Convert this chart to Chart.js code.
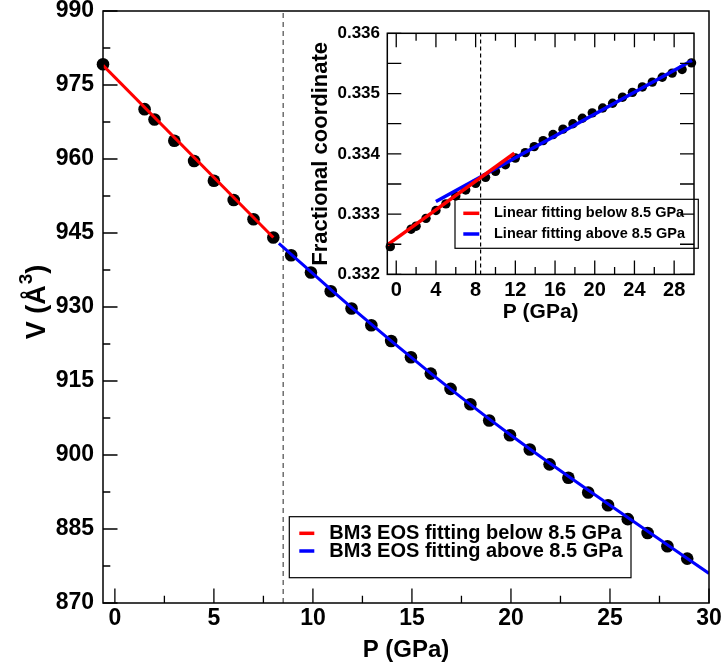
<!DOCTYPE html>
<html>
<head>
<meta charset="utf-8">
<script src="https://cdn.jsdelivr.net/npm/chart.js@4.4.0/dist/chart.umd.min.js"></script>
<style>
  body { margin: 0; background: #fff; }
  #wrap { position: relative; width: 724px; height: 668px; }
  #mainChart { position: absolute; left: 0; top: 0; }
  #insetChart { position: absolute; left: 290px; top: 15px; }
</style>
</head>
<body>
<div id="wrap">
  <canvas id="mainChart" width="724" height="668"></canvas>
  <canvas id="insetChart" width="420" height="320"></canvas>
</div>
<script>
  // main panel: cell volume vs pressure
  const pressure = [-0.6, 1.5, 2, 3, 4, 5, 6, 7, 8, 8.9, 9.9, 10.9, 11.95, 12.95, 13.95, 14.95, 15.95,
    16.95, 17.95, 18.9, 19.95, 20.95, 21.95, 22.9, 23.9, 24.9, 25.9, 26.9, 27.9, 28.9]
  const volume = [979.2, 970.1, 968.0, 963.7, 959.6, 955.6, 951.7, 947.8, 944.1, 940.5, 937.0, 933.2, 929.7,
    926.3, 923.1, 919.8, 916.5, 913.4, 910.3, 907.0, 904.0, 901.1, 898.1, 895.4, 892.4, 889.8, 887.0,
    884.2, 881.5, 879.0]
  const fitBelowP = [-0.6, 8.0]
  const fitBelowV = [979.0, 944.1]
  const fitAboveP = [8.28, 12, 16, 20, 25, 30]
  const fitAboveV = [942.9, 929.7, 916.4, 904.0, 889.8, 876.0]
  const transitionP = 8.5
  const mainLegend = ['BM3 EOS fitting below 8.5 GPa', 'BM3 EOS fitting above 8.5 GPa']
  const mainYTitle = ['V (Å', '3', ')']   // base text, superscript, closing text
  const mainXTicks = [0, 5, 10, 15, 20, 25, 30]
  const mainXMinor = [2.5, 7.5, 12.5, 17.5, 22.5, 27.5]
  const mainYTicks = [870, 885, 900, 915, 930, 945, 960, 975, 990]
  const mainYMinor = [877.5, 892.5, 907.5, 922.5, 937.5, 952.5, 967.5, 982.5]

  // inset: fractional coordinate vs pressure
  const insetP = [-0.6, 1.5, 2, 3, 4, 5, 6, 7, 8, 9, 10, 11, 12, 13, 13.9, 14.8, 15.8, 16.8, 17.8, 18.75,
    19.75, 20.8, 21.8, 22.8, 23.8, 24.8, 25.8, 26.8, 27.8, 28.8, 29.75]
  const insetFrac = [0.33246, 0.33275, 0.33280, 0.33293, 0.33306, 0.33317, 0.33330, 0.33340, 0.33351,
    0.33361, 0.33371, 0.33382, 0.33393, 0.33402, 0.33412, 0.33422, 0.33432, 0.33441, 0.33450, 0.33459,
    0.33468, 0.33476, 0.33484, 0.33494, 0.33502, 0.33511, 0.33519, 0.33527, 0.33534, 0.33540, 0.33551]
  const linBelowP = [-0.9, 11.9]
  const linBelowF = [0.33249, 0.33401]
  const linAboveP = [4, 29.8]
  const linAboveF = [0.33321, 0.33555]
  const insetLegend = ['Linear fitting below 8.5 GPa', 'Linear fitting above 8.5 GPa']
  const insetXTicks = [0, 4, 8, 12, 16, 20, 24, 28]
  const insetXMinor = [2, 6, 10, 14, 18, 22, 26]
  const insetYTicks = [0.332, 0.333, 0.334, 0.335, 0.336]
  const insetYMinor = [0.3325, 0.3335, 0.3345, 0.3355]

  const FONT = '"Liberation Sans", Arial, Helvetica, sans-serif'
  const RED = '#ff0000'
  const BLUE = '#0000ff'

  const xy = (xs, ys) => xs.map((v, i) => ({ x: v, y: ys[i] }))
  const fixTicks = vals => scale => { scale.ticks = vals.map(v => ({ value: v })) }
  // fixed axis size, and no extra room for overhanging labels
  const fixSize = (key, size) => s => {
    s[key] = size
    s.paddingTop = 0; s.paddingBottom = 0; s.paddingLeft = 0; s.paddingRight = 0
  }

  // inward tick marks + frame, drawn through the chart's own scales
  const frameTicks = {
    id: 'frameTicks',
    afterDatasetsDraw(chart, args, o) {
      const { ctx, chartArea: a, scales: { x, y } } = chart
      ctx.save()
      ctx.strokeStyle = '#000'
      ctx.lineWidth = 1.3
      ctx.beginPath()
      o.x.forEach(([vals, len]) => vals.forEach(v => {
        const px = x.getPixelForValue(v)
        ctx.moveTo(px, a.bottom); ctx.lineTo(px, a.bottom - len)
        if (o.mirror) { ctx.moveTo(px, a.top); ctx.lineTo(px, a.top + len) }
      }))
      o.y.forEach(([vals, len]) => vals.forEach(v => {
        const py = y.getPixelForValue(v)
        ctx.moveTo(a.left, py); ctx.lineTo(a.left + len, py)
        if (o.mirror) { ctx.moveTo(a.right, py); ctx.lineTo(a.right - len, py) }
      }))
      ctx.stroke()
      ctx.lineWidth = 1.5
      ctx.strokeRect(a.left, a.top, a.right - a.left, a.bottom - a.top)
      ctx.restore()
    }
  }

  // boxed legend inside the plot
  const boxLegend = {
    id: 'boxLegend',
    beforeDatasetsDraw(chart, args, o) {
      const { ctx, chartArea: a } = chart
      const x0 = a.left + o.dx, y0 = a.bottom - o.dy
      ctx.save()
      ctx.fillStyle = '#fff'
      ctx.fillRect(x0, y0, o.w, o.h)
      ctx.strokeStyle = '#000'
      ctx.lineWidth = 1.2
      ctx.strokeRect(x0, y0, o.w, o.h)
      ctx.font = 'bold ' + o.size + 'px ' + FONT
      ctx.textBaseline = 'middle'
      o.items.forEach((txt, i) => {
        const yy = y0 + o.rows[i]
        ctx.strokeStyle = o.colors[i]
        ctx.lineWidth = o.lineW
        ctx.beginPath()
        ctx.moveTo(x0 + o.line[0], yy); ctx.lineTo(x0 + o.line[1], yy)
        ctx.stroke()
        ctx.fillStyle = '#000'
        ctx.fillText(txt, x0 + o.textX, yy)
      })
      ctx.restore()
    }
  }

  // rotated y title with a real superscript
  const supTitle = {
    id: 'supTitle',
    afterDraw(chart, args, o) {
      if (!o.parts) return
      const { ctx, chartArea: a } = chart
      const big = 'bold ' + o.size + 'px ' + FONT
      const small = 'bold ' + o.supSize + 'px ' + FONT
      ctx.save()
      ctx.fillStyle = '#000'
      ctx.textBaseline = 'alphabetic'
      ctx.textAlign = 'left'
      ctx.font = big
      const w0 = ctx.measureText(o.parts[0]).width
      const w2 = ctx.measureText(o.parts[2]).width
      ctx.font = small
      const w1 = ctx.measureText(o.parts[1]).width
      const total = w0 + w1 + w2 + 1
      ctx.translate(o.baseX, (a.top + a.bottom) / 2 + o.dy)
      ctx.rotate(-Math.PI / 2)
      let x = -total / 2
      ctx.font = big
      ctx.fillText(o.parts[0], x, 0)
      x += w0 + 1
      ctx.font = small
      ctx.fillText(o.parts[1], x, -o.raise)
      x += w1
      ctx.font = big
      ctx.fillText(o.parts[2], x, 0)
      ctx.restore()
    }
  }

  Chart.register(frameTicks, boxLegend, supTitle)

  const mainChart = new Chart(document.getElementById('mainChart'), {
    type: 'scatter',
    data: {
      datasets: [
        { data: xy(fitBelowP, fitBelowV), showLine: true, borderColor: RED, borderWidth: 3, pointRadius: 0, order: 0 },
        { data: xy(fitAboveP, fitAboveV), showLine: true, borderColor: BLUE, borderWidth: 3, pointRadius: 0,
          tension: 0.4, cubicInterpolationMode: 'monotone', order: 0 },
        { data: xy(pressure, volume), pointRadius: 6.3, backgroundColor: '#000', borderColor: '#000',
          borderWidth: 0, order: 1, clip: false },
        { data: [{ x: transitionP, y: 870 }, { x: transitionP, y: 990 }], showLine: true, borderColor: '#6e6e6e',
          borderWidth: 1.5, borderDash: [5, 4], pointRadius: 0, order: 2 }
      ]
    },
    options: {
      responsive: false,
      animation: false,
      events: [],
      layout: { padding: { left: 0, top: 11, right: 15, bottom: 0 } },
      plugins: {
        legend: { display: false },
        tooltip: { enabled: false },
        frameTicks: { mirror: false, x: [[mainXTicks, 14.5], [mainXMinor, 7.3]], y: [[mainYTicks, 14.5], [mainYMinor, 7.3]] },
        boxLegend: { items: mainLegend, colors: [RED, BLUE], dx: 186.3, dy: 86.3, w: 341.7, h: 61,
          rows: [16.6, 34.3], line: [10, 25], lineW: 3.5, textX: 40, size: 20 },
        supTitle: { parts: mainYTitle, size: 27, supSize: 19, raise: 13, baseX: 44.5, dy: -5 }
      },
      scales: {
        x: {
          type: 'linear', min: -0.6, max: 30,
          afterBuildTicks: fixTicks(mainXTicks),
          afterFit: fixSize('height', 65),
          grid: { display: false, drawTicks: false }, border: { display: false },
          ticks: { color: '#000', padding: 4.5, autoSkip: false, maxRotation: 0,
            font: { family: FONT, size: 23, weight: 'bold', lineHeight: 1 } },
          title: { display: true, text: 'P (GPa)', color: '#000', padding: { top: 0, bottom: 3.6 },
            font: { family: FONT, size: 24, weight: 'bold' } }
        },
        y: {
          type: 'linear', min: 870, max: 990,
          afterBuildTicks: fixTicks(mainYTicks),
          afterFit: fixSize('width', 103),
          grid: { display: false, drawTicks: false }, border: { display: false },
          ticks: { color: '#000', padding: 9, autoSkip: false,
            font: { family: FONT, size: 23, weight: 'bold', lineHeight: 1 } },
          title: { display: false }
        }
      }
    }
  })

  const insetChart = new Chart(document.getElementById('insetChart'), {
    type: 'scatter',
    data: {
      datasets: [
        { data: xy(linBelowP, linBelowF), showLine: true, borderColor: RED, borderWidth: 3.5, pointRadius: 0, order: 0 },
        { data: xy(linAboveP, linAboveF), showLine: true, borderColor: BLUE, borderWidth: 3.5, pointRadius: 0, order: 0 },
        { data: xy(insetP, insetFrac), pointRadius: 4.7, backgroundColor: '#000', borderColor: '#000',
          borderWidth: 0, order: 1, clip: false },
        { data: [{ x: transitionP, y: 0.332 }, { x: transitionP, y: 0.336 }], showLine: true, borderColor: '#000',
          borderWidth: 1.2, borderDash: [4, 3], pointRadius: 0, order: 2 }
      ]
    },
    options: {
      responsive: false,
      animation: false,
      events: [],
      layout: { padding: { left: 0, top: 18.3, right: 16, bottom: 0 } },
      plugins: {
        legend: { display: false },
        tooltip: { enabled: false },
        frameTicks: { mirror: true, x: [[insetXTicks, 14], [insetXMinor, 7.5]], y: [[insetYTicks, 14], [insetYMinor, 14]] },
        boxLegend: { items: insetLegend, colors: [RED, BLUE], dx: 67.7, dy: 75.1, w: 243.3, h: 49,
          rows: [14, 34.7], line: [8.3, 24.3], lineW: 3.5, textX: 39, size: 14.5 },
        supTitle: { parts: null }
      },
      scales: {
        x: {
          type: 'linear', min: -0.9, max: 30,
          afterBuildTicks: fixTicks(insetXTicks),
          afterFit: fixSize('height', 60.6),
          grid: { display: false, drawTicks: false }, border: { display: false },
          ticks: { color: '#000', padding: 6, autoSkip: false, maxRotation: 0,
            font: { family: FONT, size: 20, weight: 'bold', lineHeight: 1 } },
          title: { display: true, text: 'P (GPa)', color: '#000', padding: { top: 0, bottom: 10.4 },
            font: { family: FONT, size: 21, weight: 'bold' } }
        },
        y: {
          type: 'linear', min: 0.332, max: 0.336,
          afterBuildTicks: fixTicks(insetYTicks),
          afterFit: fixSize('width', 97.3),
          grid: { display: false, drawTicks: false }, border: { display: false },
          ticks: { color: '#000', padding: 7.3, autoSkip: false, callback: v => v.toFixed(3),
            font: { family: FONT, size: 17, weight: 'bold', lineHeight: 1 } },
          title: { display: true, text: 'Fractional coordinate', color: '#000', padding: { top: 17.8, bottom: 0 },
            font: { family: FONT, size: 22, weight: 'bold' } }
        }
      }
    }
  })
</script>
</body>
</html>
